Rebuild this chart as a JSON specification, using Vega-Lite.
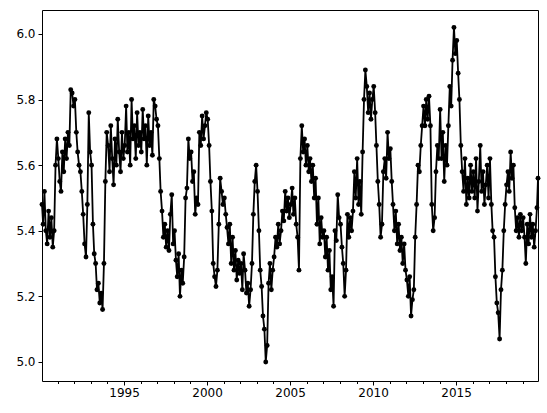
{
"$schema": "https://vega.github.io/schema/vega-lite/v6.json",
"width": 496, "height": 371,
"autosize": {"type": "none"},
"padding": {"left": 42, "top": 10, "right": 9, "bottom": 32},
"background": "white",
"config": {"view": {"stroke": "black", "strokeWidth": 1}, "axis": {"labelFont": "DejaVu Sans", "labelFontSize": 12, "labelColor": "black", "tickColor": "black", "domainColor": "black", "grid": false, "title": null, "labelPadding": 3}},
"data": {"values": [
{"d":"1990-01-21","v":5.48},{"d":"1990-02-15","v":5.42},{"d":"1990-03-15","v":5.52},{"d":"1990-04-15","v":5.40},{"d":"1990-05-15","v":5.36},{"d":"1990-06-15","v":5.46},{"d":"1990-07-15","v":5.38},{"d":"1990-08-15","v":5.44},{"d":"1990-09-15","v":5.35},{"d":"1990-10-15","v":5.40},{"d":"1990-11-15","v":5.60},{"d":"1990-12-15","v":5.68},
{"d":"1991-01-15","v":5.62},{"d":"1991-02-15","v":5.55},{"d":"1991-03-15","v":5.52},{"d":"1991-04-15","v":5.64},{"d":"1991-05-15","v":5.58},{"d":"1991-06-15","v":5.68},{"d":"1991-07-15","v":5.62},{"d":"1991-08-15","v":5.70},{"d":"1991-09-15","v":5.66},{"d":"1991-10-15","v":5.83},{"d":"1991-11-15","v":5.82},{"d":"1991-12-15","v":5.78},
{"d":"1992-01-15","v":5.80},{"d":"1992-02-15","v":5.70},{"d":"1992-03-15","v":5.64},{"d":"1992-04-15","v":5.60},{"d":"1992-05-15","v":5.58},{"d":"1992-06-15","v":5.52},{"d":"1992-07-15","v":5.45},{"d":"1992-08-15","v":5.36},{"d":"1992-09-15","v":5.32},{"d":"1992-10-15","v":5.48},{"d":"1992-11-15","v":5.76},{"d":"1992-12-15","v":5.64},
{"d":"1993-01-15","v":5.60},{"d":"1993-02-15","v":5.42},{"d":"1993-03-15","v":5.33},{"d":"1993-04-15","v":5.30},{"d":"1993-05-15","v":5.22},{"d":"1993-06-15","v":5.24},{"d":"1993-07-15","v":5.18},{"d":"1993-08-15","v":5.21},{"d":"1993-09-15","v":5.16},{"d":"1993-10-15","v":5.30},{"d":"1993-11-15","v":5.55},{"d":"1993-12-15","v":5.70},
{"d":"1994-01-15","v":5.66},{"d":"1994-02-15","v":5.58},{"d":"1994-03-15","v":5.72},{"d":"1994-04-15","v":5.62},{"d":"1994-05-15","v":5.54},{"d":"1994-06-15","v":5.68},{"d":"1994-07-15","v":5.60},{"d":"1994-08-15","v":5.74},{"d":"1994-09-15","v":5.64},{"d":"1994-10-15","v":5.58},{"d":"1994-11-15","v":5.70},{"d":"1994-12-15","v":5.62},
{"d":"1995-01-15","v":5.66},{"d":"1995-02-15","v":5.78},{"d":"1995-03-15","v":5.64},{"d":"1995-04-15","v":5.70},{"d":"1995-05-15","v":5.60},{"d":"1995-06-15","v":5.80},{"d":"1995-07-15","v":5.68},{"d":"1995-08-15","v":5.72},{"d":"1995-09-15","v":5.62},{"d":"1995-10-15","v":5.76},{"d":"1995-11-15","v":5.66},{"d":"1995-12-15","v":5.70},
{"d":"1996-01-15","v":5.64},{"d":"1996-02-15","v":5.77},{"d":"1996-03-15","v":5.68},{"d":"1996-04-15","v":5.72},{"d":"1996-05-15","v":5.60},{"d":"1996-06-15","v":5.75},{"d":"1996-07-15","v":5.66},{"d":"1996-08-15","v":5.70},{"d":"1996-09-15","v":5.63},{"d":"1996-10-15","v":5.80},{"d":"1996-11-15","v":5.78},{"d":"1996-12-15","v":5.74},
{"d":"1997-01-15","v":5.72},{"d":"1997-02-15","v":5.62},{"d":"1997-03-15","v":5.52},{"d":"1997-04-15","v":5.46},{"d":"1997-05-15","v":5.38},{"d":"1997-06-15","v":5.42},{"d":"1997-07-15","v":5.35},{"d":"1997-08-15","v":5.40},{"d":"1997-09-15","v":5.34},{"d":"1997-10-15","v":5.45},{"d":"1997-11-15","v":5.51},{"d":"1997-12-15","v":5.36},
{"d":"1998-01-15","v":5.40},{"d":"1998-02-15","v":5.31},{"d":"1998-03-15","v":5.26},{"d":"1998-04-15","v":5.33},{"d":"1998-05-15","v":5.20},{"d":"1998-06-15","v":5.28},{"d":"1998-07-15","v":5.24},{"d":"1998-08-15","v":5.32},{"d":"1998-09-15","v":5.50},{"d":"1998-10-15","v":5.53},{"d":"1998-11-15","v":5.68},{"d":"1998-12-15","v":5.62},
{"d":"1999-01-15","v":5.64},{"d":"1999-02-15","v":5.55},{"d":"1999-03-15","v":5.58},{"d":"1999-04-15","v":5.45},{"d":"1999-05-15","v":5.50},{"d":"1999-06-15","v":5.48},{"d":"1999-07-15","v":5.70},{"d":"1999-08-15","v":5.66},{"d":"1999-09-15","v":5.75},{"d":"1999-10-15","v":5.68},{"d":"1999-11-15","v":5.72},{"d":"1999-12-15","v":5.76},
{"d":"2000-01-15","v":5.74},{"d":"2000-02-15","v":5.66},{"d":"2000-03-15","v":5.55},{"d":"2000-04-15","v":5.46},{"d":"2000-05-15","v":5.30},{"d":"2000-06-15","v":5.26},{"d":"2000-07-15","v":5.23},{"d":"2000-08-15","v":5.28},{"d":"2000-09-15","v":5.42},{"d":"2000-10-15","v":5.56},{"d":"2000-11-15","v":5.52},{"d":"2000-12-15","v":5.48},
{"d":"2001-01-15","v":5.50},{"d":"2001-02-15","v":5.45},{"d":"2001-03-15","v":5.41},{"d":"2001-04-15","v":5.36},{"d":"2001-05-15","v":5.42},{"d":"2001-06-15","v":5.30},{"d":"2001-07-15","v":5.38},{"d":"2001-08-15","v":5.28},{"d":"2001-09-15","v":5.34},{"d":"2001-10-15","v":5.25},{"d":"2001-11-15","v":5.31},{"d":"2001-12-15","v":5.27},
{"d":"2002-01-15","v":5.30},{"d":"2002-02-15","v":5.22},{"d":"2002-03-15","v":5.33},{"d":"2002-04-15","v":5.28},{"d":"2002-05-15","v":5.21},{"d":"2002-06-15","v":5.24},{"d":"2002-07-15","v":5.17},{"d":"2002-08-15","v":5.22},{"d":"2002-09-15","v":5.30},{"d":"2002-10-15","v":5.45},{"d":"2002-11-15","v":5.55},{"d":"2002-12-15","v":5.60},
{"d":"2003-01-15","v":5.52},{"d":"2003-02-15","v":5.40},{"d":"2003-03-15","v":5.28},{"d":"2003-04-15","v":5.23},{"d":"2003-05-15","v":5.14},{"d":"2003-06-15","v":5.10},{"d":"2003-07-15","v":5.00},{"d":"2003-08-15","v":5.05},{"d":"2003-09-15","v":5.24},{"d":"2003-10-15","v":5.30},{"d":"2003-11-15","v":5.22},{"d":"2003-12-15","v":5.28},
{"d":"2004-01-15","v":5.32},{"d":"2004-02-15","v":5.38},{"d":"2004-03-15","v":5.35},{"d":"2004-04-15","v":5.42},{"d":"2004-05-15","v":5.36},{"d":"2004-06-15","v":5.40},{"d":"2004-07-15","v":5.46},{"d":"2004-08-15","v":5.43},{"d":"2004-09-15","v":5.52},{"d":"2004-10-15","v":5.46},{"d":"2004-11-15","v":5.50},{"d":"2004-12-15","v":5.44},
{"d":"2005-01-15","v":5.48},{"d":"2005-02-15","v":5.53},{"d":"2005-03-15","v":5.45},{"d":"2005-04-15","v":5.50},{"d":"2005-05-15","v":5.42},{"d":"2005-06-15","v":5.38},{"d":"2005-07-15","v":5.28},{"d":"2005-08-15","v":5.62},{"d":"2005-09-15","v":5.72},{"d":"2005-10-15","v":5.64},{"d":"2005-11-15","v":5.68},{"d":"2005-12-15","v":5.60},
{"d":"2006-01-15","v":5.66},{"d":"2006-02-15","v":5.58},{"d":"2006-03-15","v":5.62},{"d":"2006-04-15","v":5.55},{"d":"2006-05-15","v":5.60},{"d":"2006-06-15","v":5.50},{"d":"2006-07-15","v":5.56},{"d":"2006-08-15","v":5.42},{"d":"2006-09-15","v":5.50},{"d":"2006-10-15","v":5.36},{"d":"2006-11-15","v":5.44},{"d":"2006-12-15","v":5.38},
{"d":"2007-01-15","v":5.40},{"d":"2007-02-15","v":5.32},{"d":"2007-03-15","v":5.38},{"d":"2007-04-15","v":5.28},{"d":"2007-05-15","v":5.34},{"d":"2007-06-15","v":5.22},{"d":"2007-07-15","v":5.26},{"d":"2007-08-15","v":5.17},{"d":"2007-09-15","v":5.40},{"d":"2007-10-15","v":5.37},{"d":"2007-11-15","v":5.51},{"d":"2007-12-15","v":5.44},
{"d":"2008-01-15","v":5.42},{"d":"2008-02-15","v":5.35},{"d":"2008-03-15","v":5.30},{"d":"2008-04-15","v":5.20},{"d":"2008-05-15","v":5.28},{"d":"2008-06-15","v":5.45},{"d":"2008-07-15","v":5.38},{"d":"2008-08-15","v":5.44},{"d":"2008-09-15","v":5.40},{"d":"2008-10-15","v":5.46},{"d":"2008-11-15","v":5.58},{"d":"2008-12-15","v":5.50},
{"d":"2009-01-15","v":5.62},{"d":"2009-02-15","v":5.48},{"d":"2009-03-15","v":5.55},{"d":"2009-04-15","v":5.45},{"d":"2009-05-15","v":5.64},{"d":"2009-06-15","v":5.80},{"d":"2009-07-15","v":5.89},{"d":"2009-08-15","v":5.84},{"d":"2009-09-15","v":5.76},{"d":"2009-10-15","v":5.82},{"d":"2009-11-15","v":5.74},{"d":"2009-12-15","v":5.80},
{"d":"2010-01-15","v":5.84},{"d":"2010-02-15","v":5.76},{"d":"2010-03-15","v":5.66},{"d":"2010-04-15","v":5.55},{"d":"2010-05-15","v":5.48},{"d":"2010-06-15","v":5.38},{"d":"2010-07-15","v":5.42},{"d":"2010-08-15","v":5.58},{"d":"2010-09-15","v":5.62},{"d":"2010-10-15","v":5.56},{"d":"2010-11-15","v":5.70},{"d":"2010-12-15","v":5.62},
{"d":"2011-01-15","v":5.65},{"d":"2011-02-15","v":5.55},{"d":"2011-03-15","v":5.48},{"d":"2011-04-15","v":5.40},{"d":"2011-05-15","v":5.46},{"d":"2011-06-15","v":5.36},{"d":"2011-07-15","v":5.42},{"d":"2011-08-15","v":5.34},{"d":"2011-09-15","v":5.38},{"d":"2011-10-15","v":5.30},{"d":"2011-11-15","v":5.36},{"d":"2011-12-15","v":5.28},
{"d":"2012-01-15","v":5.25},{"d":"2012-02-15","v":5.20},{"d":"2012-03-15","v":5.26},{"d":"2012-04-15","v":5.14},{"d":"2012-05-15","v":5.19},{"d":"2012-06-15","v":5.22},{"d":"2012-07-15","v":5.38},{"d":"2012-08-15","v":5.48},{"d":"2012-09-15","v":5.60},{"d":"2012-10-15","v":5.58},{"d":"2012-11-15","v":5.66},{"d":"2012-12-15","v":5.72},
{"d":"2013-01-15","v":5.78},{"d":"2013-02-15","v":5.72},{"d":"2013-03-15","v":5.80},{"d":"2013-04-15","v":5.74},{"d":"2013-05-15","v":5.81},{"d":"2013-06-15","v":5.72},{"d":"2013-07-15","v":5.48},{"d":"2013-08-15","v":5.40},{"d":"2013-09-15","v":5.44},{"d":"2013-10-15","v":5.58},{"d":"2013-11-15","v":5.66},{"d":"2013-12-15","v":5.62},
{"d":"2014-01-15","v":5.77},{"d":"2014-02-15","v":5.62},{"d":"2014-03-15","v":5.70},{"d":"2014-04-15","v":5.55},{"d":"2014-05-15","v":5.66},{"d":"2014-06-15","v":5.60},{"d":"2014-07-15","v":5.72},{"d":"2014-08-15","v":5.84},{"d":"2014-09-15","v":5.78},{"d":"2014-10-15","v":5.92},{"d":"2014-11-15","v":6.02},{"d":"2014-12-15","v":5.94},
{"d":"2015-01-15","v":5.98},{"d":"2015-02-15","v":5.88},{"d":"2015-03-15","v":5.80},{"d":"2015-04-15","v":5.66},{"d":"2015-05-15","v":5.58},{"d":"2015-06-15","v":5.52},{"d":"2015-07-15","v":5.62},{"d":"2015-08-15","v":5.48},{"d":"2015-09-15","v":5.56},{"d":"2015-10-15","v":5.50},{"d":"2015-11-15","v":5.60},{"d":"2015-12-15","v":5.52},
{"d":"2016-01-15","v":5.58},{"d":"2016-02-15","v":5.50},{"d":"2016-03-15","v":5.62},{"d":"2016-04-15","v":5.46},{"d":"2016-05-15","v":5.55},{"d":"2016-06-15","v":5.66},{"d":"2016-07-15","v":5.52},{"d":"2016-08-15","v":5.58},{"d":"2016-09-15","v":5.48},{"d":"2016-10-15","v":5.54},{"d":"2016-11-15","v":5.60},{"d":"2016-12-15","v":5.50},
{"d":"2017-01-15","v":5.62},{"d":"2017-02-15","v":5.48},{"d":"2017-03-15","v":5.40},{"d":"2017-04-15","v":5.38},{"d":"2017-05-15","v":5.26},{"d":"2017-06-15","v":5.18},{"d":"2017-07-15","v":5.15},{"d":"2017-08-15","v":5.07},{"d":"2017-09-15","v":5.22},{"d":"2017-10-15","v":5.28},{"d":"2017-11-15","v":5.40},{"d":"2017-12-15","v":5.48},
{"d":"2018-01-15","v":5.54},{"d":"2018-02-15","v":5.58},{"d":"2018-03-15","v":5.52},{"d":"2018-04-15","v":5.64},{"d":"2018-05-15","v":5.56},{"d":"2018-06-15","v":5.60},{"d":"2018-07-15","v":5.47},{"d":"2018-08-15","v":5.40},{"d":"2018-09-15","v":5.44},{"d":"2018-10-15","v":5.38},{"d":"2018-11-15","v":5.45},{"d":"2018-12-15","v":5.40},
{"d":"2019-01-15","v":5.44},{"d":"2019-02-15","v":5.38},{"d":"2019-03-15","v":5.30},{"d":"2019-04-15","v":5.42},{"d":"2019-05-15","v":5.36},{"d":"2019-06-15","v":5.45},{"d":"2019-07-15","v":5.38},{"d":"2019-08-15","v":5.42},{"d":"2019-09-15","v":5.35},{"d":"2019-10-15","v":5.40},{"d":"2019-11-15","v":5.47},{"d":"2019-12-08","v":5.56}
]},
"mark": {"type": "line", "color": "black", "strokeWidth": 1.8, "point": {"filled": true, "color": "black", "size": 24, "opacity": 1}},
"encoding": {
"x": {"field": "d", "type": "temporal", "scale": {"type": "utc", "domain": ["1990-01-21", "2019-12-08"]},
 "axis": {"tickCount": {"interval": "year", "step": 1}, "labelExpr": "utcyear(datum.value) % 5 === 0 ? utcFormat(datum.value, '%Y') : ''", "tickSize": {"condition": {"test": "utcyear(datum.value) % 5 === 0", "value": 4}, "value": 2.5}, "labelFlush": false, "labelOverlap": false, "labelPadding": 2, "domain": false}},
"y": {"field": "v", "type": "quantitative", "scale": {"domain": [4.942, 6.073], "zero": false, "nice": false},
 "axis": {"values": [5.0, 5.2, 5.4, 5.6, 5.8, 6.0], "format": ".1f", "tickSize": 4, "domain": false, "labelPadding": 3}}
}
}
